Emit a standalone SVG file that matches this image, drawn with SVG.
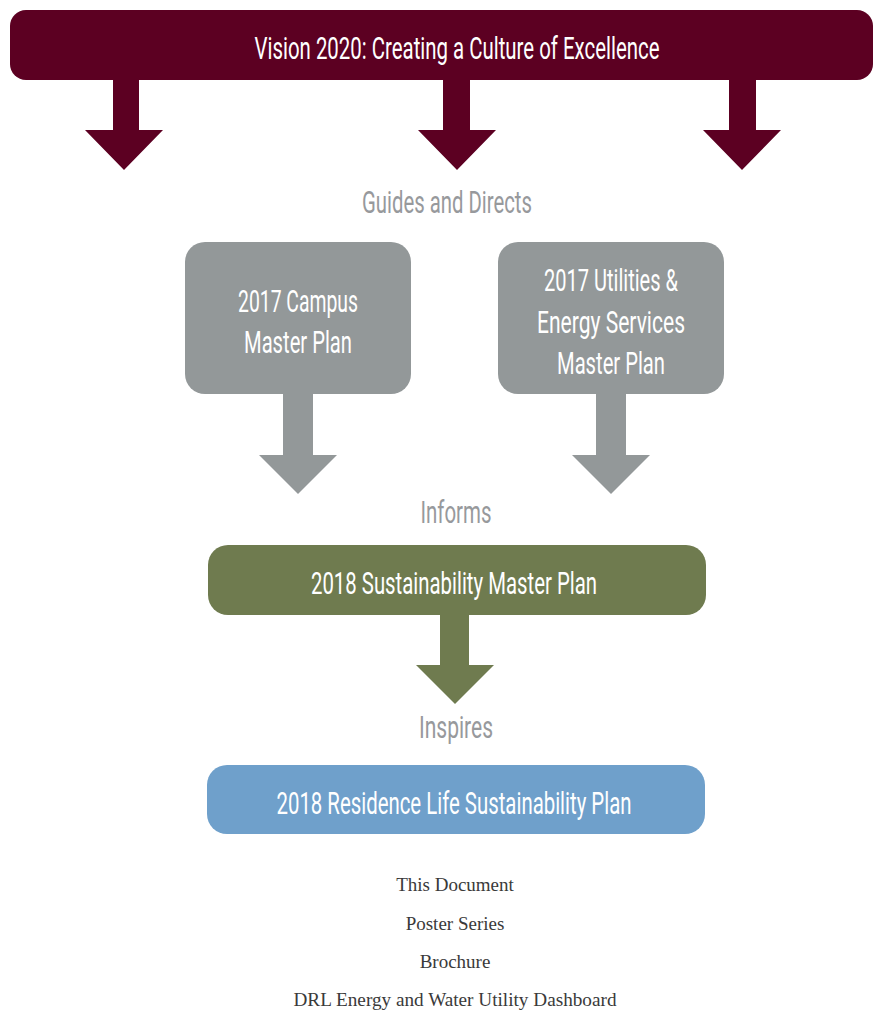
<svg xmlns="http://www.w3.org/2000/svg" width="873" height="1011" viewBox="0 0 873 1011">
<style>
.t{font-family:Roboto,"Liberation Sans",sans-serif;font-size:32px;fill:#fff;text-anchor:middle}
.lbl{font-family:Roboto,"Liberation Sans",sans-serif;font-size:32px;fill:#97999c;text-anchor:middle}
.s{font-family:"Liberation Serif",serif;font-size:19px;fill:#3a3a3a;text-anchor:middle}
.m{fill:#5c0022}.g{fill:#939899}.o{fill:#6f7b4f}
</style>
<rect width="873" height="1011" fill="#fff"/>
<g id="connectors">
<path class="m" d="M113 78H139V130H163L124 170L85 130H113Z"/>
<path class="m" d="M443 78H470V130H496L457 170L418 130H443Z"/>
<path class="m" d="M729 78H756V130H781L742 170L703 130H729Z"/>
<path class="g" d="M283 392H313V455H337L298 494L259 455H283Z"/>
<path class="g" d="M596 392H626V455H650L611 494L572 455H596Z"/>
<path class="o" d="M440 613H469V665H494L455 704L416 665H440Z"/>
</g>
<g id="vision">
<rect x="10" y="10" width="863" height="70" rx="16" class="m"/>
<text class="t" x="457" y="59" textLength="405" lengthAdjust="spacingAndGlyphs">Vision 2020: Creating a Culture of Excellence</text>
</g>
<g id="label-guides"><text class="lbl" x="447" y="213" textLength="170" lengthAdjust="spacingAndGlyphs">Guides and Directs</text></g>
<g id="campus">
<rect x="185" y="242" width="226" height="152" rx="20" class="g"/>
<text class="t" x="298" y="312" textLength="120" lengthAdjust="spacingAndGlyphs">2017 Campus</text>
<text class="t" x="298" y="353" textLength="108" lengthAdjust="spacingAndGlyphs">Master Plan</text>
</g>
<g id="utilities">
<rect x="498" y="242" width="226" height="152" rx="20" class="g"/>
<text class="t" x="611" y="291" textLength="134" lengthAdjust="spacingAndGlyphs">2017 Utilities &amp;</text>
<text class="t" x="611" y="333" textLength="148" lengthAdjust="spacingAndGlyphs">Energy Services</text>
<text class="t" x="611" y="374" textLength="108" lengthAdjust="spacingAndGlyphs">Master Plan</text>
</g>
<g id="label-informs"><text class="lbl" x="456" y="523" textLength="71" lengthAdjust="spacingAndGlyphs">Informs</text></g>
<g id="sustainability">
<rect x="208" y="545" width="498" height="70" rx="20" class="o"/>
<text class="t" x="454" y="594" textLength="286" lengthAdjust="spacingAndGlyphs">2018 Sustainability Master Plan</text>
</g>
<g id="label-inspires"><text class="lbl" x="456" y="738" textLength="74" lengthAdjust="spacingAndGlyphs">Inspires</text></g>
<g id="residence">
<rect x="207" y="765" width="498" height="69" rx="20" fill="#6fa0cb"/>
<text class="t" x="454" y="814" textLength="355" lengthAdjust="spacingAndGlyphs">2018 Residence Life Sustainability Plan</text>
</g>
<g id="outputs">
<text class="s" x="455" y="891">This Document</text>
<text class="s" x="455" y="930">Poster Series</text>
<text class="s" x="455" y="968">Brochure</text>
<text class="s" x="455" y="1006" textLength="323" lengthAdjust="spacingAndGlyphs">DRL Energy and Water Utility Dashboard</text>
</g>
</svg>
